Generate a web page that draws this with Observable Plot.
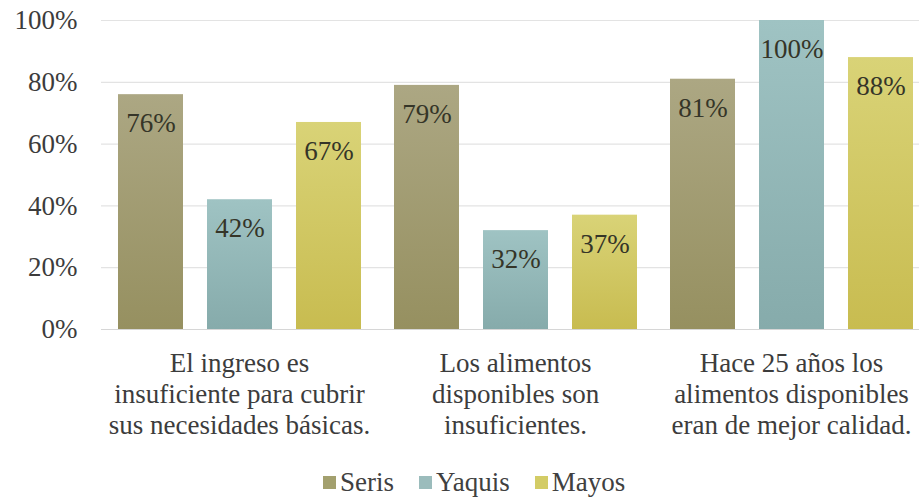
<!DOCTYPE html>
<html>
<head>
<meta charset="utf-8">
<script src="https://cdn.jsdelivr.net/npm/d3@7"></script>
<script src="https://cdn.jsdelivr.net/npm/@observablehq/plot@0.6"></script>
</head>
<body style="margin:0;padding:0;background:#fff;width:919px;height:498px;position:relative;overflow:hidden;font-family:'Liberation Serif'">
<div id="chart"></div>
<div id="legend" style="position:absolute;left:323px;top:467px;height:30px;display:flex;align-items:center;font-size:27px;color:#404040;font-family:'Liberation Serif'"></div>
<script>
const groups = [
  "El ingreso es\ninsuficiente para cubrir\nsus necesidades básicas.",
  "Los alimentos\ndisponibles son\ninsuficientes.",
  "Hace 25 años los\nalimentos disponibles\neran de mejor calidad."
];
const series = ["Seris", "Yaquis", "Mayos"];
const seris = [0.76, 0.79, 0.81];
const yaquis = [0.42, 0.32, 1.00];
const mayos = [0.67, 0.37, 0.88];
const yTicks = [0, 0.2, 0.4, 0.6, 0.8, 1.0];

const colorsTop = ["#aca783", "#9fc3c3", "#d9d377"];
const colorsBottom = ["#969060", "#86abab", "#c8bc50"];
const legendColors = ["#a3a06e", "#9bbcbc", "#d3cc66"];

const FONT = "Liberation Serif";

const valuesBySeries = [seris, yaquis, mayos];
const data = [];
groups.forEach((g, gi) => {
  series.forEach((s, si) => {
    data.push({group: g, series: s, value: valuesBySeries[si][gi]});
  });
});

const chart = Plot.plot({
  width: 919,
  height: 467,
  marginTop: 20,
  marginBottom: 138,
  marginLeft: 100,
  marginRight: -10,
  style: "font-family: 'Liberation Serif'; background: #fff;",
  fx: {domain: groups, padding: 0, label: null},
  x: {domain: series, paddingInner: 0.27, paddingOuter: 0.185, axis: null},
  y: {domain: [0, 1], axis: null},
  color: {domain: series, range: series.map((s, i) => `url(#grad${i})`)},
  marks: [
    Plot.gridY(yTicks, {stroke: "#e3e3e3", strokeOpacity: 1, strokeWidth: 1.2}),
    Plot.ruleY([0], {stroke: "#d6d6d6", strokeWidth: 1.2}),
    Plot.barY(data, {fx: "group", x: "series", y: "value", fill: "series"}),
    Plot.text(data, {fx: "group", x: "series", y: "value", text: d => Math.round(d.value * 100) + "%", dy: 29, fontSize: 27, fontFamily: FONT, fill: "#353528"}),
    Plot.axisY(yTicks, {anchor: "left", tickSize: 0, tickPadding: 24, tickFormat: d => Math.round(d * 100) + "%", fontSize: 27, fontFamily: FONT, color: "#3c3c3c", label: null}),
    Plot.axisFx({anchor: "bottom", tickSize: 0, tickPadding: 20, fontSize: 27, fontFamily: FONT, lineHeight: 1.15, color: "#3c3c3c", label: null})
  ]
});

d3.select(chart).selectAll("text").attr("font-family", FONT);

const defs = d3.select(chart).insert("defs", ":first-child");
series.forEach((s, i) => {
  const lg = defs.append("linearGradient").attr("id", `grad${i}`).attr("x1", 0).attr("y1", 0).attr("x2", 0).attr("y2", 1);
  lg.append("stop").attr("offset", "0%").attr("stop-color", colorsTop[i]);
  lg.append("stop").attr("offset", "100%").attr("stop-color", colorsBottom[i]);
});

document.getElementById("chart").appendChild(chart);

const legend = d3.select("#legend");
series.forEach((s, i) => {
  const it = legend.append("div").style("display", "flex").style("align-items", "center").style("margin-right", "25px");
  it.append("div").style("width", "13px").style("height", "13px").style("margin-right", "4px").style("background", legendColors[i]);
  it.append("span").style("font-family", FONT).text(s);
});
</script>
</body>
</html>
